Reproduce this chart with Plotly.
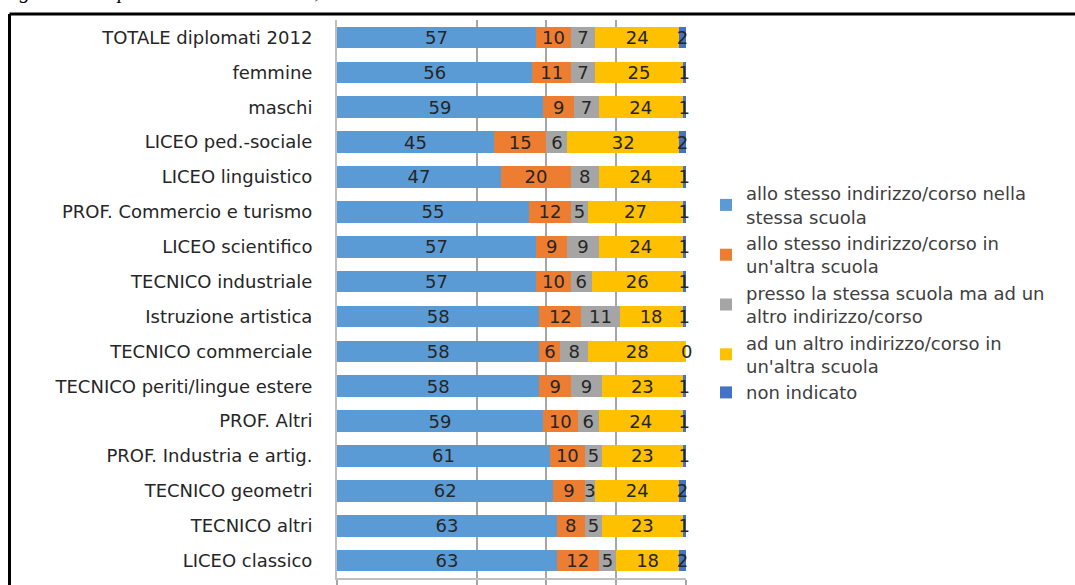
import plotly.graph_objects as go

# categories (top to bottom)
categorie = [
    "TOTALE diplomati 2012", "femmine", "maschi", "LICEO ped.-sociale",
    "LICEO linguistico", "PROF. Commercio e turismo", "LICEO scientifico",
    "TECNICO industriale", "Istruzione artistica", "TECNICO commerciale",
    "TECNICO periti/lingue estere", "PROF. Altri", "PROF. Industria e artig.",
    "TECNICO geometri", "TECNICO altri", "LICEO classico",
]

stesso_corso_stessa_scuola = [57, 56, 59, 45, 47, 55, 57, 57, 58, 58, 58, 59, 61, 62, 63, 63]
stesso_corso_altra_scuola = [10, 11, 9, 15, 20, 12, 9, 10, 12, 6, 9, 10, 10, 9, 8, 12]
stessa_scuola_altro_corso = [7, 7, 7, 6, 8, 5, 9, 6, 11, 8, 9, 6, 5, 3, 5, 5]
altro_corso_altra_scuola = [24, 25, 24, 32, 24, 27, 24, 26, 18, 28, 23, 24, 23, 24, 23, 18]
non_indicato = [2, 1, 1, 2, 1, 1, 1, 1, 1, 0, 1, 1, 1, 2, 1, 2]

serie = [
    ("allo stesso indirizzo/corso nella<br>stessa scuola", stesso_corso_stessa_scuola, "#5B9BD5"),
    ("allo stesso indirizzo/corso in<br>un'altra scuola", stesso_corso_altra_scuola, "#ED7D31"),
    ("presso la stessa scuola ma ad un<br>altro indirizzo/corso", stessa_scuola_altro_corso, "#A5A5A5"),
    ("ad un altro indirizzo/corso in<br>un'altra scuola", altro_corso_altra_scuola, "#FFC000"),
    ("non indicato", non_indicato, "#4472C4"),
]

W, H = 1075, 585
L, R, T, B = 337, 1075 - 686, 20, 7
pw, ph = W - L - R, H - T - B


def px_x(px):
    return (px - L) / pw


def px_y(py):
    return (H - B - py) / ph


fig = go.Figure()
for nome, valori, colore in serie:
    fig.add_trace(go.Bar(
        y=categorie, x=valori, name=nome, orientation="h",
        marker=dict(color=colore, line=dict(width=0)),
        text=[str(v) for v in valori], textposition="inside",
        insidetextanchor="middle", textangle=0,
        textfont=dict(family="DejaVu Sans", size=18, color="#262626"),
        cliponaxis=False,
    ))

# labels for empty segments (plotly draws no text on zero-width bars)
cumul = [0] * len(categorie)
for nome, valori, colore in serie:
    for i, v in enumerate(valori):
        cumul[i] += v
        if v == 0:
            fig.add_annotation(x=cumul[i], y=categorie[i], text=str(v), showarrow=False,
                               font=dict(family="DejaVu Sans", size=18, color="#262626"))

fig.update_layout(
    width=W, height=H,
    margin=dict(l=L, r=R, t=T, b=B, autoexpand=False),
    barmode="stack", bargap=0.38,
    plot_bgcolor="white", paper_bgcolor="white",
    font=dict(family="DejaVu Sans", size=18, color="#404040"),
    uniformtext=dict(minsize=18, mode="show"),
    showlegend=True,
    legend=dict(
        x=px_x(706), y=px_y(175), xanchor="left", yanchor="top",
        traceorder="normal", font=dict(size=18, color="#404040"),
        itemwidth=30, bgcolor="rgba(0,0,0,0)",
    ),
)
fig.update_xaxes(
    range=[0, 100], tickvals=[0, 40, 60, 80, 100], showticklabels=False,
    showgrid=True, gridcolor="#A6A6A6", gridwidth=1.5,
    showline=True, linecolor="#BFBFBF", linewidth=2,
    ticks="outside", ticklen=7, tickcolor="#A6A6A6", tickwidth=1.5,
    zeroline=False, automargin=False,
)
fig.update_yaxes(
    autorange="reversed", showgrid=False,
    showline=True, linecolor="#BFBFBF", linewidth=2,
    ticks="", ticklabelstandoff=19, automargin=False,
    tickfont=dict(family="DejaVu Sans", size=18, color="#262626"),
)

# black frame around the chart
fig.add_shape(type="line", xref="paper", yref="paper",
              x0=px_x(9.5), x1=px_x(1076), y0=px_y(14), y1=px_y(14),
              line=dict(color="black", width=3))
fig.add_shape(type="line", xref="paper", yref="paper",
              x0=px_x(9.5), x1=px_x(9.5), y0=px_y(14), y1=px_y(590),
              line=dict(color="black", width=3))

# caption cut off at the top of the picture
fig.add_annotation(
    text="<i>Figura 6 - Se potessi tornare indietro, ti iscriveresti allo stesso corso?</i>",
    xref="paper", yref="paper", x=px_x(-2), y=px_y(-9), xanchor="left", yanchor="middle",
    showarrow=False, font=dict(family="Liberation Serif", size=21, color="black"),
)

fig.write_html("out.html", config={"displayModeBar": False},
               post_script="document.body.style.margin='0';")
